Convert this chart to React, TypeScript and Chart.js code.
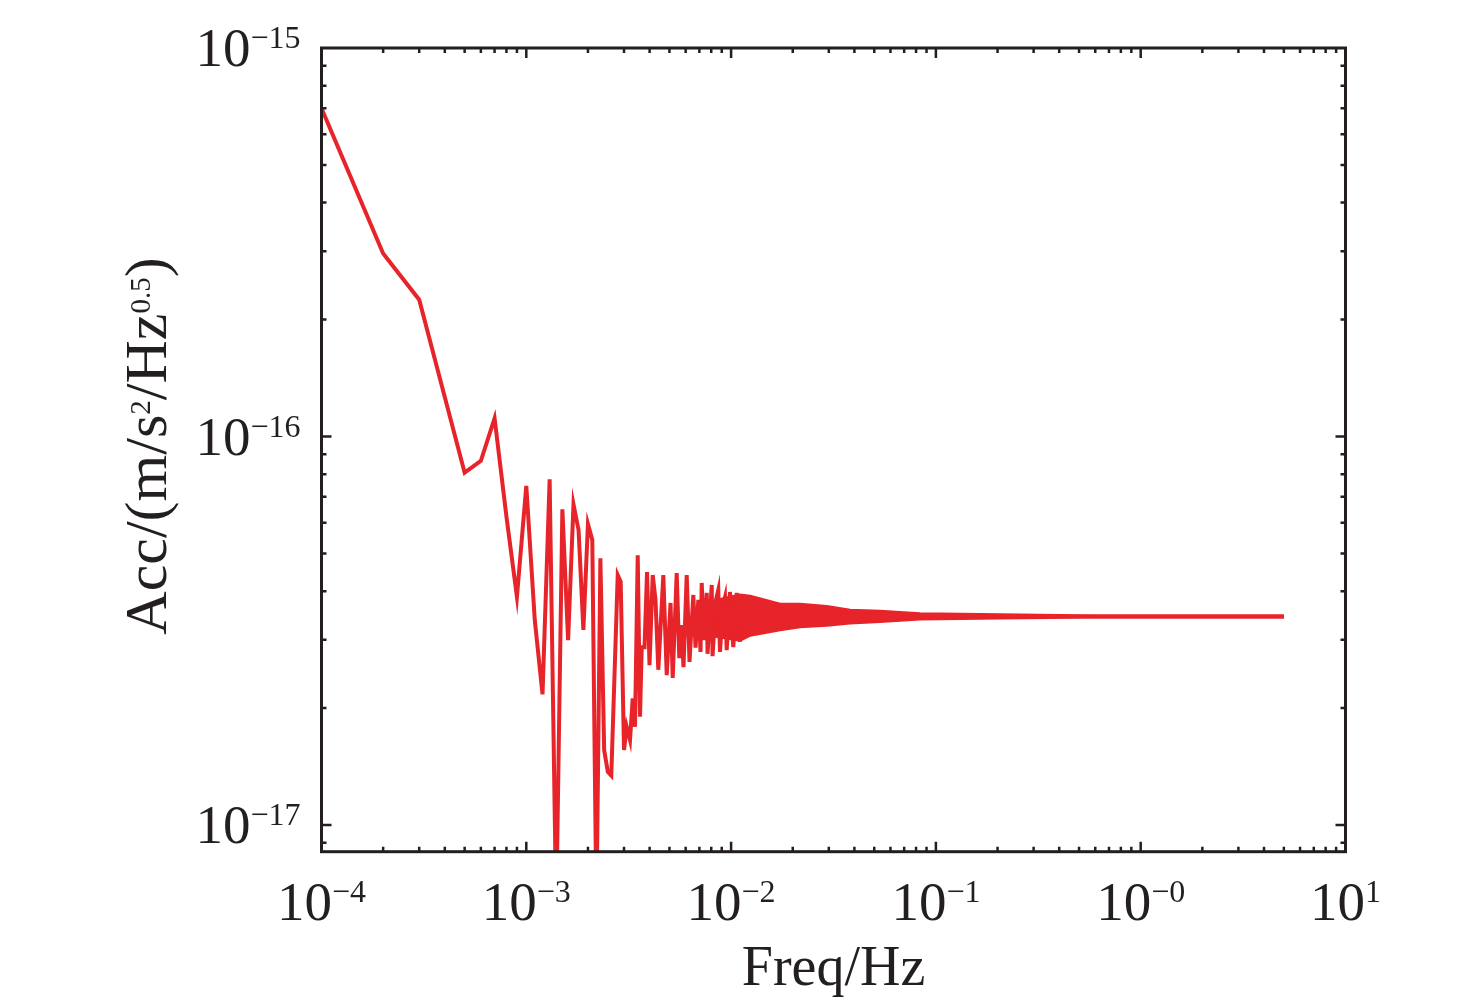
import { useEffect, useRef } from "react"
import { Chart, registerables } from "chart.js"

Chart.register(...registerables)

// main trace, frequency in Hz, acceleration noise in units of 1e-17 m/s^2/Hz^0.5
const freqHz = [
  0.0001, 0.0002, 0.0003, 0.0005, 0.0006, 0.0007, 0.0008, 0.0009, 0.001, 0.0011,
  0.0012, 0.0013, 0.0014, 0.0015, 0.0016, 0.0017, 0.0018, 0.0019, 0.002, 0.0021,
  0.0022, 0.0023, 0.0024, 0.0025, 0.0026, 0.002795, 0.00289, 0.003, 0.003092, 0.003209,
  0.003308, 0.003395, 0.0035, 0.003592, 0.003661, 0.003778, 0.003886, 0.003996, 0.004143, 0.004275,
  0.004412, 0.004667, 0.004849, 0.00506, 0.005187, 0.005425, 0.005586, 0.005726, 0.005856, 0.006071,
  0.006265, 0.006539, 0.006703, 0.006918, 0.007091, 0.007187, 0.007376, 0.007603, 0.007672, 0.008043,
  0.008116, 0.008441, 0.00866, 0.008827, 0.00913, 0.009338, 0.009518, 0.009877, 0.01025, 0.01065,
  0.01105,
]
const accE17 = [
  70, 29.6, 22.5, 8.07, 8.66, 11.14, 6.22, 3.87, 7.46, 3.37,
  2.17, 7.76, 0.6, 6.5, 2.99, 6.69, 5.74, 3.18, 5.95, 5.42,
  0.6, 4.86, 1.56, 1.37, 1.34, 4.4, 4.23, 1.56, 1.79, 1.655,
  2.12, 1.79, 4.95, 1.9, 2.87, 2.87, 4.48, 2.58, 4.4, 3.8,
  2.51, 4.4, 2.43, 3.73, 2.39, 4.45, 2.69, 3.27, 2.55, 4.4,
  2.63, 3.91, 2.86, 3.8, 2.79, 4.2, 2.99, 3.96, 2.76, 4.15,
  2.72, 3.8, 4.03, 2.79, 3.68, 3.86, 2.82, 3.98, 2.87, 3.96,
  2.96,
]

// above ~0.008 Hz the ripple is too dense to resolve, so its solid part is drawn as a band
const bandFreqHz = [0.0076, 0.009, 0.01105, 0.01237, 0.01733, 0.0217, 0.0293, 0.03807, 0.05335, 0.0836, 0.2056, 0.633, 5]
const bandUpperE17 = [3.7, 3.8, 3.9, 3.87, 3.69, 3.69, 3.64, 3.56, 3.54, 3.49, 3.47, 3.44, 3.44]
const bandLowerE17 = [3.1, 3.05, 3.0, 3.09, 3.19, 3.25, 3.28, 3.32, 3.35, 3.4, 3.42, 3.44, 3.44]

const xTickValues = [1e-4, 1e-3, 1e-2, 1e-1, 1, 10]
const xTickExps = ["\u22124", "\u22123", "\u22122", "\u22121", "\u22120", "1"]
const yTickValues = [1e-15, 1e-16, 1e-17]
const yTickExps = ["\u221215", "\u221216", "\u221217"]

const RED = "#e6242a"
const INK = "#231f20"
const FONT = "'Liberation Serif', 'Times New Roman', serif"

const toPoints = (xs: number[], ys: number[]) => xs.map((x, i) => ({ x, y: ys[i] * 1e-17 }))

function drawPower(ctx: CanvasRenderingContext2D, exp: string, x: number, baseline: number, align: "center" | "right") {
  ctx.font = `55px ${FONT}`
  const w1 = ctx.measureText("10").width
  ctx.font = `32px ${FONT}`
  const w2 = ctx.measureText(exp).width
  const start = align === "center" ? x - (w1 + w2) / 2 : x - (w1 + w2)
  ctx.font = `55px ${FONT}`
  ctx.fillText("10", start, baseline)
  ctx.font = `32px ${FONT}`
  ctx.fillText(exp, start + w1, baseline - 18)
}

const framePlugin = {
  id: "frame",
  afterDraw(chart: any) {
    const { ctx, chartArea } = chart
    const { left, right, top, bottom } = chartArea
    const xs = chart.scales.x
    const ys = chart.scales.y
    ctx.save()
    ctx.strokeStyle = INK
    ctx.fillStyle = INK

    // inward ticks on all four sides
    ctx.lineWidth = 2.5
    ctx.beginPath()
    for (let e = -4; e <= 0; e++) {
      for (let m = 1; m <= 9; m++) {
        const px = xs.getPixelForValue(m * Math.pow(10, e))
        const len = m === 1 ? 10 : 5
        ctx.moveTo(px, bottom)
        ctx.lineTo(px, bottom - len)
        ctx.moveTo(px, top)
        ctx.lineTo(px, top + len)
      }
    }
    for (let e = -18; e <= -16; e++) {
      for (let m = 1; m <= 9; m++) {
        const v = m * Math.pow(10, e)
        if (v < ys.min || v > ys.max) continue
        const py = ys.getPixelForValue(v)
        const len = m === 1 ? 10 : 5
        ctx.moveTo(left, py)
        ctx.lineTo(left + len, py)
        ctx.moveTo(right, py)
        ctx.lineTo(right - len, py)
      }
    }
    ctx.stroke()

    ctx.lineWidth = 3
    ctx.strokeRect(left, top, right - left, bottom - top)

    // tick labels
    ctx.textAlign = "left"
    ctx.textBaseline = "alphabetic"
    xTickValues.forEach((v, i) => drawPower(ctx, xTickExps[i], xs.getPixelForValue(v), 920, "center"))
    yTickValues.forEach((v, i) => drawPower(ctx, yTickExps[i], left - 21, ys.getPixelForValue(v) + 18, "right"))

    // axis titles
    ctx.font = `56px ${FONT}`
    ctx.textAlign = "center"
    ctx.fillText("Freq/Hz", (left + right) / 2, 985)

    const parts: [string, boolean][] = [
      ["Acc/(m/s", false],
      ["2", true],
      ["/Hz", false],
      ["0.5", true],
      [")", false],
    ]
    const mainFont = `60px ${FONT}`
    const supFont = `29px ${FONT}`
    ctx.textAlign = "left"
    let total = 0
    for (const [t, sup] of parts) {
      ctx.font = sup ? supFont : mainFont
      total += ctx.measureText(t).width
    }
    ctx.translate(166, 446)
    ctx.rotate(-Math.PI / 2)
    let cx = -total / 2
    for (const [t, sup] of parts) {
      ctx.font = sup ? supFont : mainFont
      ctx.fillText(t, cx, sup ? -16 : 0)
      cx += ctx.measureText(t).width
    }
    ctx.restore()
  },
}

export default function App() {
  const canvasRef = useRef<HTMLCanvasElement>(null)
  const chartRef = useRef<Chart | null>(null)

  useEffect(() => {
    if (!canvasRef.current) return
    if (chartRef.current) chartRef.current.destroy()

    chartRef.current = new Chart(canvasRef.current, {
      type: "line",
      data: {
        datasets: [
          {
            data: toPoints(freqHz, accE17),
            borderColor: RED,
            borderWidth: 4,
            pointRadius: 0,
            fill: false,
          },
          {
            data: toPoints(bandFreqHz, bandUpperE17),
            borderColor: RED,
            backgroundColor: RED,
            borderWidth: 4,
            pointRadius: 0,
            fill: "+1",
          },
          {
            data: toPoints(bandFreqHz, bandLowerE17),
            borderColor: RED,
            borderWidth: 4,
            pointRadius: 0,
            fill: false,
          },
        ],
      },
      options: {
        animation: false,
        responsive: true,
        maintainAspectRatio: false,
        layout: { padding: { left: 321.5, right: 130.5, top: 48, bottom: 152.3 } },
        plugins: {
          legend: { display: false },
          tooltip: { enabled: false },
        },
        scales: {
          x: { type: "logarithmic", min: 1e-4, max: 10, display: false },
          y: { type: "logarithmic", min: 8.54e-18, max: 1e-15, display: false },
        },
      },
      plugins: [framePlugin],
    })

    return () => {
      if (chartRef.current) {
        chartRef.current.destroy()
        chartRef.current = null
      }
    }
  }, [])

  return (
    <div style={{ position: "absolute", left: 0, top: 0, width: 1476, height: 1004, background: "#fff" }}>
      <canvas ref={canvasRef}></canvas>
    </div>
  )
}
